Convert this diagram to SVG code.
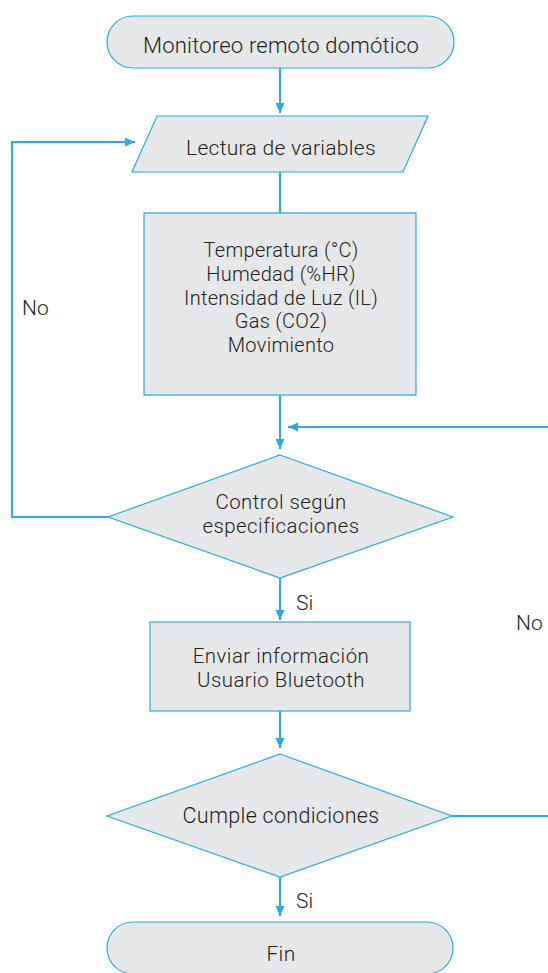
<svg xmlns="http://www.w3.org/2000/svg" width="548" height="973" viewBox="0 0 548 973">
  <style>
    .shape { fill: #e6e7e8; stroke: #29abe2; stroke-width: 1.2; }
    .wire { fill: none; stroke: #29abe2; stroke-width: 2; }
    .lbl { font-family: Roboto, "Open Sans", "Liberation Sans", sans-serif; font-size: 20px; font-weight: 300; fill: #231f20; text-anchor: middle; letter-spacing: 0.3px; }
    .big { font-size: 22px; letter-spacing: 0.2px; }
    .mid { font-size: 21px; }
    .two { font-size: 20.4px; letter-spacing: 0.5px; }
    .note { font-family: Roboto, "Open Sans", "Liberation Sans", sans-serif; font-size: 21px; font-weight: 300; fill: #231f20; }
  </style>
  <defs>
    <marker id="arrow" viewBox="0 0 10 10" refX="10" refY="5" markerWidth="10" markerHeight="10" markerUnits="userSpaceOnUse" orient="auto">
      <path d="M0,0.5 L10,5 L0,9.5 Z" fill="#29abe2"/>
    </marker>
  </defs>
  <rect width="548" height="973" fill="#ffffff"/>

  <g id="connectors">
    <path class="wire" d="M280,68 V113" marker-end="url(#arrow)"/>
    <path class="wire" d="M280,172 V213"/>
    <path class="wire" d="M280,395 V449" marker-end="url(#arrow)"/>
    <path class="wire" d="M548,427 H288" marker-end="url(#arrow)"/>
    <path class="wire" d="M108,517 H12 V142 H135" marker-end="url(#arrow)"/>
    <path class="wire" d="M280,578 V620" marker-end="url(#arrow)"/>
    <path class="wire" d="M280,711 V748" marker-end="url(#arrow)"/>
    <path class="wire" d="M452,816 H548"/>
    <path class="wire" d="M280,877 V916" marker-end="url(#arrow)"/>
    <text class="note" x="22" y="315">No</text>
    <text class="note" x="296" y="610">Si</text>
    <text class="note" x="516" y="630">No</text>
    <text class="note" x="296" y="908">Si</text>
  </g>

  <g id="start">
    <rect class="shape" x="107" y="16" width="347" height="52" rx="26" ry="26"/>
    <text class="lbl big" x="281" y="53">Monitoreo remoto domótico</text>
  </g>

  <g id="read">
    <polygon class="shape" points="157,116 428,116 403,172 132,172"/>
    <text class="lbl mid" x="281" y="155">Lectura de variables</text>
  </g>

  <g id="variables">
    <rect class="shape" x="144" y="213" width="272" height="182"/>
    <text class="lbl" x="281" y="257">Temperatura (°C)</text>
    <text class="lbl" x="281" y="280.75">Humedad (%HR)</text>
    <text class="lbl" x="281" y="304.5">Intensidad de Luz (IL)</text>
    <text class="lbl" x="281" y="328.25">Gas (CO2)</text>
    <text class="lbl" x="281" y="352">Movimiento</text>
  </g>

  <g id="control">
    <polygon class="shape" points="280,455 453,517 280,578 108,517"/>
    <text class="lbl two" x="281" y="509">Control según</text>
    <text class="lbl two" x="281" y="533">especificaciones</text>
  </g>

  <g id="send">
    <rect class="shape" x="150" y="622" width="260" height="89"/>
    <text class="lbl two" x="281" y="663">Enviar información</text>
    <text class="lbl two" x="281" y="687">Usuario Bluetooth</text>
  </g>

  <g id="check">
    <polygon class="shape" points="280,754 452,816 280,877 107,816"/>
    <text class="lbl" x="281" y="823" style="font-size:21.5px">Cumple condiciones</text>
  </g>

  <g id="end">
    <rect class="shape" x="107" y="922" width="346" height="52" rx="26" ry="26"/>
    <text class="lbl mid" x="281" y="961">Fin</text>
  </g>
</svg>
